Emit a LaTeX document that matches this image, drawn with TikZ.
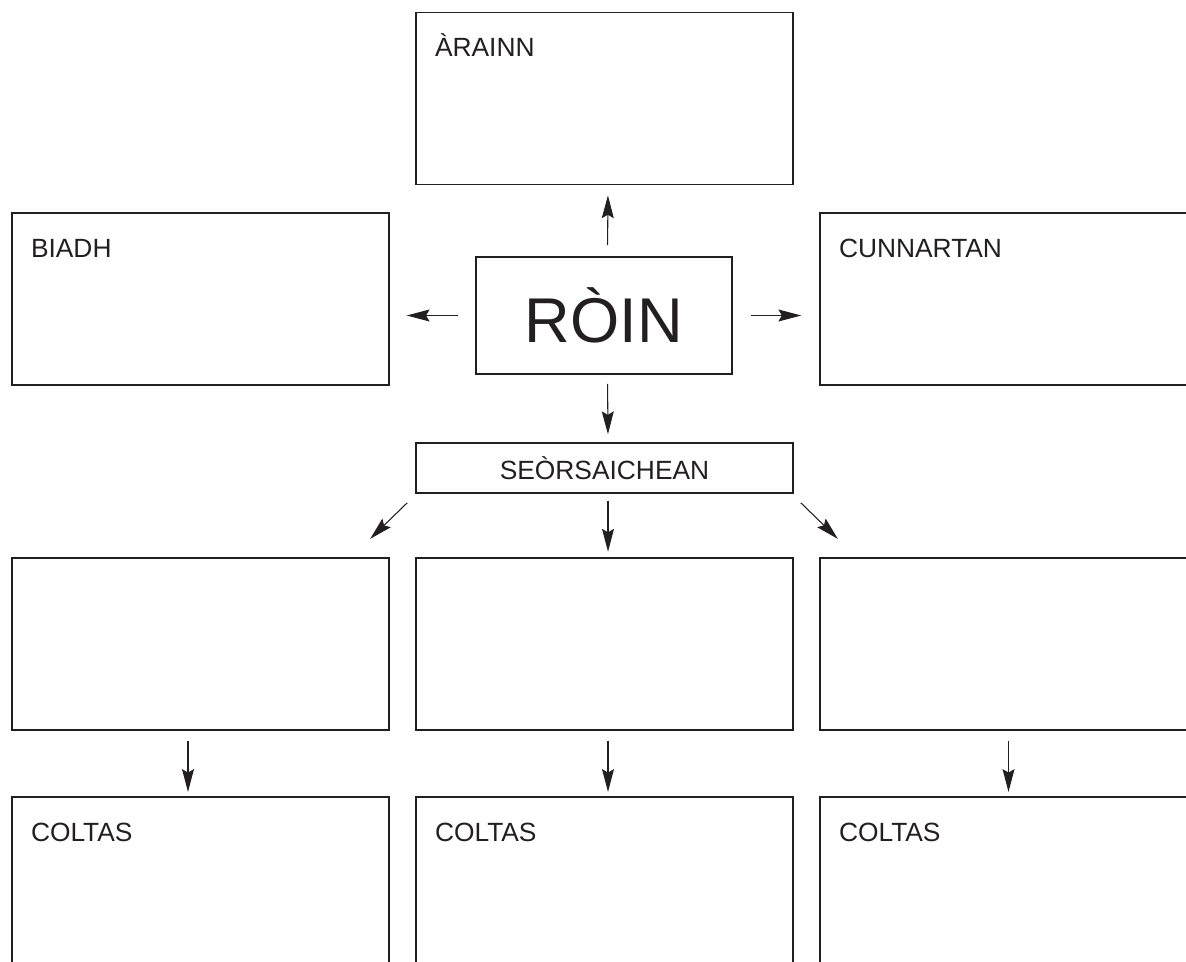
\documentclass[tikz,border=0pt]{standalone}
\usepackage{fontspec}
\setmainfont{Liberation Sans}
\usepackage{tikz}
\usetikzlibrary{positioning, arrows.meta, calc}

\definecolor{ink}{HTML}{231F20}
\tikzset{
    box/.style={draw=ink, line width=1pt, minimum width=7.54cm, minimum height=3.44cm, inner sep=0pt},
    lbl/.style={font=\fontsize{15}{18}\selectfont, text=ink, inner sep=0pt, anchor=base west},
    arr/.style={draw=ink, line width=0.6pt, -{Stealth[length=13pt, width=6.8pt, inset=2pt]}},
}

\begin{document}
\begin{tikzpicture}[x=0.02cm, y=-0.02cm]
    \useasboundingbox (0,0) rectangle (1186,962);
    \clip (0,0) rectangle (1186,962);
    % Centre box
    \node[box, minimum width=5.12cm, minimum height=2.34cm, font=\fontsize{36}{40}\selectfont, text=ink] (roin) at (604,315.5) {RÒIN};
    % Boxes round the centre
    \node[box] (arainn) at (604.5,98.5) {};
    \node[box] (biadh) at (200.5,299) {};
    \node[box] (cunnartan) at (1008.5,299) {};
    \node[lbl] (arainntxt) at ($(arainn.north west)+(19.5,44.5)$) {ÀRAINN};
    \node[lbl] (biadhtxt) at ($(biadh.north west)+(19.5,45)$) {BIADH};
    \node[lbl] (cunnartantxt) at ($(cunnartan.north west)+(19.5,45)$) {CUNNARTAN};
    \draw[arr, shorten <=6.2pt, shorten >=5.7pt] ([xshift=2pt]roin.north) -- ([xshift=2pt]arainn.south);
    \draw[arr, shorten <=10pt, shorten >=9.6pt] (roin.west) -- (roin.west -| biadh.east);
    \draw[arr, shorten <=10.2pt, shorten >=10.2pt] (roin.east) -- (roin.east -| cunnartan.west);
    % Types
    \node[box, minimum height=1cm, font=\fontsize{15}{18}\selectfont, text=ink] (seors) at (604.5,468) {SEÒRSAICHEAN};
    \draw[arr, shorten <=5.1pt, shorten >=4.5pt] ([xshift=2pt]roin.south) -- ([xshift=2pt]seors.north);
    \coordinate (sl) at ($(seors.south west)+(-8,9)$);
    \coordinate (tl) at ($(sl)+(-37,36)$);
    \coordinate (sr) at ($(seors.south east)+(7,9)$);
    \coordinate (tr) at ($(sr)+(37,36)$);
    \draw[arr] (sl) -- (tl);
    \draw[arr] (sr) -- (tr);
    % Rows of boxes
    \foreach \n/\cx/\dx in {l/200.5/-12.5, m/604.5/3.5, r/1008.5/0} {
        \node[box] (mid\n) at (\cx,644) {};
        \node[box] (col\n) at (\cx,883) {};
        \node[lbl] (col\n txt) at ($(col\n.north west)+(19.5,45)$) {COLTAS};
        \draw[arr, shorten <=5.7pt, shorten >=2.4pt] ($(mid\n.south)+(\dx,0)$) -- ($(col\n.north)+(\dx,0)$);
    }
    \draw[arr, shorten <=4pt, shorten >=3.1pt] ([xshift=2pt]seors.south) -- ([xshift=2pt]midm.north);
\end{tikzpicture}
\end{document}
